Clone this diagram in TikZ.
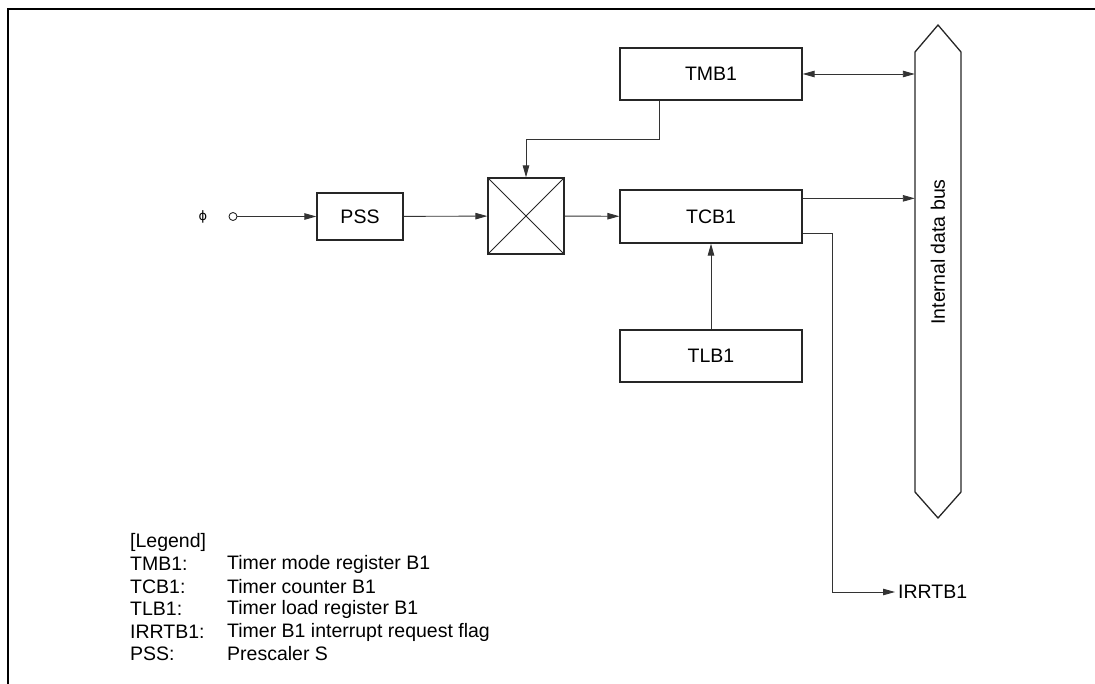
\documentclass[tikz,border=0pt]{standalone}
\usepackage{fontspec}
\setmainfont{Liberation Sans}
\newfontfamily\symfont{DejaVu Sans}
\usetikzlibrary{arrows.meta,calc}
\begin{document}
\begin{tikzpicture}[x=1pt,y=-1pt,
  box/.style={draw=black!85, line width=1.3pt, minimum width=182pt, minimum height=52pt, inner sep=0pt, font=\fontsize{19.5}{22}\selectfont},
  conn/.style={draw=black!80, line width=0.9pt},
  tip/.tip={Triangle[length=12pt,width=6.5pt]},
  arr/.style={conn, -tip},
  txt/.style={inner sep=0pt, font=\fontsize{19.5}{22}\selectfont}]
\useasboundingbox (0,0) rectangle (1095,684);
% frame
\draw[line width=2.2pt, line join=miter] (8,684) -- (8,9) -- (1095,9);
% bus
\draw[line width=1.3pt, draw=black!85] (915,52) -- (938,25) -- (961,52) -- (961,492) -- (938,518) -- (915,492) -- cycle;
\node[inner sep=0pt, minimum width=46pt, minimum height=440pt] (bus) at (938,272) {};
\node[txt, rotate=90] (buslbl) at (938,252) {Internal data bus};
% boxes
\node[box] (tmb) at (711,74) {TMB1};
\node[box, minimum height=53pt] (tcb) at (711,216.5) {TCB1};
\node[box] (tlb) at (711,356) {TLB1};
\node[box, minimum width=86pt, minimum height=47pt] (pss) at (360,216.5) {PSS};
\node[draw=black!85, line width=1.3pt, minimum size=76pt, inner sep=0pt] (mux) at (526,216) {};
\draw[line width=1pt, draw=black!85] (mux.north west) -- (mux.south east) (mux.north east) -- (mux.south west);
% input
\node[inner sep=0pt, font=\symfont\fontsize{13}{15}\selectfont] (phi) at (203,217) {ϕ};
\node[circle, draw=black!85, line width=0.9pt, inner sep=0pt, minimum size=8pt] (src) at (233,216.5) {};
\draw[arr] (src) -- (pss);
\draw[arr] (pss) -- (mux);
\draw[arr] (mux) -- (tcb);
% TMB1 to mux
\coordinate (m1) at ([xshift=-52pt]tmb.south);
\draw[arr] (m1) -- ++(0,39) -| (mux.north);
% TMB1 <-> bus
\draw[conn, tip-tip] (tmb.east) -- (tmb.east -| bus.west);
% TCB1 -> bus
\coordinate (t1) at ([yshift=-9pt]tcb.north east);
\draw[arr] (t1) -- (t1 -| bus.west);
% TCB1 -> IRRTB1
\node[txt, anchor=west] (irr) at (898,592) {IRRTB1};
\coordinate (t2) at ([yshift=10pt]tcb.south east);
\coordinate (t3) at ([xshift=-3pt]irr.west);
\draw[arr] (t2) -- ($(t2)+(30,0)$) |- (t3);
% TLB1 -> TCB1
\draw[arr] (tlb) -- (tcb);
% legend
\node[txt, anchor=west] (lg) at (130,542) {[Legend]};
\node[txt, anchor=west] (l1) at (130,564) {TMB1:};
\node[txt, anchor=west] (l2) at (130,587) {TCB1:};
\node[txt, anchor=west] (l3) at (130,609) {TLB1:};
\node[txt, anchor=west] (l4) at (130,632) {IRRTB1:};
\node[txt, anchor=west] (l5) at (130,654) {PSS:};
\node[txt, anchor=west] (d1) at (227,564) {Timer mode register B1};
\node[txt, anchor=west] (d2) at (227,587) {Timer counter B1};
\node[txt, anchor=west] (d3) at (227,609) {Timer load register B1};
\node[txt, anchor=west] (d4) at (227,632) {Timer B1 interrupt request flag};
\node[txt, anchor=west] (d5) at (227,654) {Prescaler S};
\end{tikzpicture}
\end{document}
